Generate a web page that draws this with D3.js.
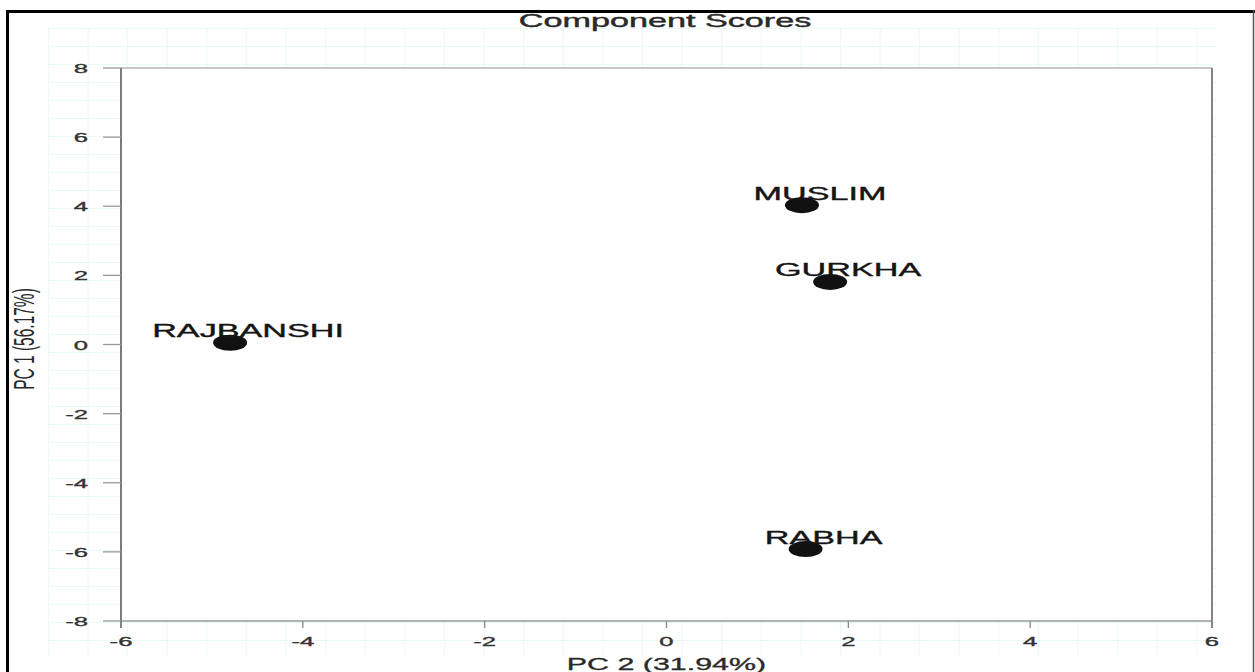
<!DOCTYPE html>
<html>
<head>
<meta charset="utf-8">
<script src="https://cdn.jsdelivr.net/npm/d3@7"></script>
<style>
  body { margin: 0; background: #fff; }
  text { font-family: "Liberation Sans", Arial, sans-serif; }
</style>
</head>
<body>
<svg width="1255" height="672"></svg>
<script>
// component scores
var groups = ["RAJBANSHI", "MUSLIM", "GURKHA", "RABHA"];
var pc2 = [-4.80, 1.49, 1.80, 1.53];
var pc1 = [0.05, 4.03, 1.81, -5.92];

var xTicks = [-6, -4, -2, 0, 2, 4, 6];
var yTicks = [-8, -6, -4, -2, 0, 2, 4, 6, 8];

var chartTitle = "Component Scores";
var xTitle = "PC 2 (31.94%)";
var yTitle = "PC 1 (56.17%)";

var stretch = 1.9; // the original picture is squashed sideways, text looks wide

var svg = d3.select("svg");
// note: "top" is taken by window.top, so use plot* names
var plotLeft = 121, plotRight = 1212, plotTop = 68, plotBottom = 621;

var x = d3.scaleLinear().domain([-6, 6]).range([plotLeft, plotRight]);
var y = d3.scaleLinear().domain([-8, 8]).range([plotBottom, plotTop]);

// faint graph paper behind everything
var defs = svg.append("defs");
var pat = defs.append("pattern")
  .attr("id", "paper")
  .attr("patternUnits", "userSpaceOnUse")
  .attr("x", 48).attr("y", 28)
  .attr("width", 39.6).attr("height", 18);
pat.append("path")
  .attr("d", "M0,0 H39.6 M0,0 V18")
  .attr("stroke", "#d9efef")
  .attr("stroke-width", 1)
  .attr("fill", "none");

svg.append("rect")
  .attr("x", 48).attr("y", 28)
  .attr("width", 1217 - 48).attr("height", 657 - 28)
  .attr("fill", "url(#paper)");

// white plot area
svg.append("rect")
  .attr("x", plotLeft).attr("y", plotTop)
  .attr("width", plotRight - plotLeft).attr("height", plotBottom - plotTop)
  .attr("fill", "#fff");

// frame
svg.append("line").attr("x1", plotLeft).attr("x2", plotRight).attr("y1", plotTop).attr("y2", plotTop)
  .attr("stroke", "#b4b4b4").attr("stroke-width", 1.5);
svg.append("line").attr("x1", plotLeft).attr("x2", plotRight).attr("y1", plotBottom).attr("y2", plotBottom)
  .attr("stroke", "#9a9a9a").attr("stroke-width", 1.5);
svg.append("line").attr("x1", plotLeft).attr("x2", plotLeft).attr("y1", plotTop).attr("y2", plotBottom + 7)
  .attr("stroke", "#6e6e6e").attr("stroke-width", 1.8);
svg.append("line").attr("x1", plotRight).attr("x2", plotRight).attr("y1", plotTop).attr("y2", plotBottom + 7)
  .attr("stroke", "#777").attr("stroke-width", 1.8);

// y ticks (outward to the left)
var yAx = svg.append("g");
yAx.selectAll("line").data(yTicks).enter().append("line")
  .attr("x1", plotLeft - 18).attr("x2", plotLeft)
  .attr("y1", function(d) { return y(d); })
  .attr("y2", function(d) { return y(d); })
  .attr("stroke", "#999").attr("stroke-width", 1.3);
yAx.selectAll("text").data(yTicks).enter().append("text")
  .attr("transform", function(d) { return "translate(88," + (y(d) + 5) + ") scale(" + stretch + ",1)"; })
  .attr("text-anchor", "end")
  .style("font-size", "13.5px")
  .attr("fill", "#333").attr("stroke", "#333").attr("stroke-width", 0.35)
  .text(function(d) { return d; });

// x ticks (down)
var xAx = svg.append("g");
xAx.selectAll("line").data(xTicks).enter().append("line")
  .attr("x1", function(d) { return x(d); })
  .attr("x2", function(d) { return x(d); })
  .attr("y1", plotBottom).attr("y2", plotBottom + 7)
  .attr("stroke", "#888").attr("stroke-width", 1.3);
xAx.selectAll("text").data(xTicks).enter().append("text")
  .attr("transform", function(d) { return "translate(" + x(d) + ",646) scale(" + stretch + ",1)"; })
  .attr("text-anchor", "middle")
  .style("font-size", "13.5px")
  .attr("fill", "#333").attr("stroke", "#333").attr("stroke-width", 0.35)
  .text(function(d) { return d; });

// titles
svg.append("text")
  .attr("transform", "translate(665,27) scale(" + stretch + ",1)")
  .attr("text-anchor", "middle")
  .style("font-size", "18px")
  .attr("fill", "#2a2a2a").attr("stroke", "#2a2a2a").attr("stroke-width", 0.4)
  .text(chartTitle);

svg.append("text")
  .attr("transform", "translate(666.5,670) scale(" + stretch + ",1)")
  .attr("text-anchor", "middle")
  .style("font-size", "16px")
  .attr("fill", "#2a2a2a").attr("stroke", "#2a2a2a").attr("stroke-width", 0.3)
  .text(xTitle);

svg.append("text")
  .attr("transform", "translate(34,339) scale(" + stretch + ",1) rotate(-90)")
  .attr("text-anchor", "middle")
  .style("font-size", "15.5px")
  .attr("fill", "#2a2a2a")
  .text(yTitle);

// points
var pts = groups.map(function(g, i) { return { name: g, px: pc2[i], py: pc1[i] }; });

svg.append("g").selectAll("ellipse").data(pts).enter().append("ellipse")
  .attr("cx", function(d) { return x(d.px); })
  .attr("cy", function(d) { return y(d.py); })
  .attr("rx", 17).attr("ry", 8)
  .attr("fill", "#111");

svg.append("g").selectAll("text").data(pts).enter().append("text")
  .attr("transform", function(d) {
    return "translate(" + (x(d.px) + 18) + "," + (y(d.py) - 5.5) + ") scale(" + stretch + ",1)";
  })
  .attr("text-anchor", "middle")
  .style("font-size", "18px")
  .attr("fill", "#151515").attr("stroke", "#151515").attr("stroke-width", 0.35)
  .text(function(d) { return d.name; });

// outer black frame of the figure
svg.append("line").attr("x1", 7.5).attr("x2", 7.5).attr("y1", 10).attr("y2", 672)
  .attr("stroke", "#000").attr("stroke-width", 3);
svg.append("line").attr("x1", 6).attr("x2", 1255).attr("y1", 11.5).attr("y2", 11.5)
  .attr("stroke", "#000").attr("stroke-width", 3);
svg.append("line").attr("x1", 1253.5).attr("x2", 1253.5).attr("y1", 10).attr("y2", 672)
  .attr("stroke", "#555").attr("stroke-width", 1.5);
</script>
</body>
</html>
